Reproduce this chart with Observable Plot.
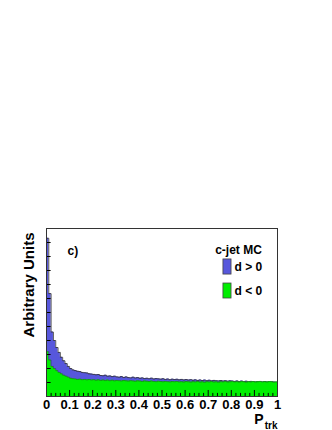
<!DOCTYPE html>
<html><head><meta charset="utf-8">
<script src="https://cdn.jsdelivr.net/npm/d3@7"></script>
<script src="https://cdn.jsdelivr.net/npm/@observablehq/plot@0.6"></script>
<style>html,body{margin:0;padding:0;background:#fff;} svg{display:block;}</style>
</head><body><div id="chart"></div>
<script>
// Histogram: 100 bins of width 0.01 in P_trk over [0,1]
const binEdgesStart = 0, binWidth = 0.01;
const dPos = [11.3,7.35,4.6,4.0,3.5,3.15,2.8,2.55,2.35,2.15,
  2.0,1.9,1.85,1.8,1.78,1.72,1.7,1.68,1.62,1.6,
  1.58,1.55,1.57,1.5,1.48,1.52,1.45,1.47,1.42,1.45,
  1.4,1.38,1.42,1.36,1.4,1.35,1.33,1.38,1.32,1.35,
  1.3,1.33,1.28,1.3,1.27,1.31,1.25,1.28,1.26,1.24,
  1.27,1.22,1.25,1.2,1.24,1.21,1.23,1.19,1.22,1.18,
  1.21,1.17,1.2,1.16,1.19,1.15,1.18,1.14,1.17,1.13,
  1.16,1.12,1.15,1.13,1.11,1.14,1.1,1.13,1.09,1.12,
  1.1,1.08,1.11,1.07,1.1,1.06,1.09,1.05,1.08,1.06,
  1.04,1.07,1.05,1.03,1.06,1.04,1.02,1.05,1.03,1.01];
const dNeg = [3.2,2.6,2.15,2.0,1.85,1.72,1.62,1.52,1.45,1.38,
  1.3,1.27,1.25,1.22,1.24,1.2,1.22,1.19,1.21,1.18,
  1.2,1.16,1.19,1.15,1.18,1.14,1.17,1.13,1.16,1.12,
  1.15,1.13,1.11,1.14,1.12,1.1,1.13,1.11,1.09,1.12,
  1.1,1.08,1.11,1.09,1.07,1.1,1.08,1.06,1.09,1.07,
  1.05,1.08,1.06,1.04,1.07,1.05,1.08,1.04,1.06,1.03,
  1.07,1.05,1.03,1.06,1.04,1.07,1.03,1.05,1.02,1.06,
  1.04,1.07,1.03,1.05,1.02,1.06,1.04,1.07,1.03,1.05,
  1.08,1.04,1.06,1.03,1.07,1.05,1.02,1.06,1.04,1.07,
  1.03,1.05,1.08,1.04,1.06,1.03,1.07,1.05,1.02,1.04];
const xTicks = [0,0.1,0.2,0.3,0.4,0.5,0.6,0.7,0.8,0.9,1];
const xTickLabels = ["0","0.1","0.2","0.3","0.4","0.5","0.6","0.7","0.8","0.9","1"];
const xMinorTicks = [0.02,0.04,0.06,0.08,0.12,0.14,0.16,0.18,0.22,0.24,0.26,0.28,0.32,0.34,0.36,0.38,
  0.42,0.44,0.46,0.48,0.52,0.54,0.56,0.58,0.62,0.64,0.66,0.68,0.72,0.74,0.76,0.78,0.82,0.84,0.86,0.88,0.92,0.94,0.96,0.98];
const yTicks = [1,2,3,4,5,6,7,8,9,10,11];
const legendLabels = ["d > 0","d < 0"];
const legendTitle = "c-jet MC";
const panelLabel = "c)";
const yLabel = "Arbitrary Units";

const blue = "#5757dc", green = "#00ee00", outline = "#333";

function steps(vals) {
  const pts = vals.map((v, i) => ({x: binEdgesStart + i * binWidth, y: v}));
  pts.push({x: binEdgesStart + vals.length * binWidth, y: vals[vals.length - 1]});
  return pts;
}
const posPts = steps(dPos), negPts = steps(dNeg);
const swatches = [
  {x1: 0.766, x2: 0.801, y1: 8.71, y2: 9.79, fill: blue, label: legendLabels[0], ty: 9.25},
  {x1: 0.766, x2: 0.801, y1: 7.0, y2: 8.07, fill: green, label: legendLabels[1], ty: 7.53}
];
const font = "'Liberation Sans', Arial, Helvetica, sans-serif";

const chart = Plot.plot({
  width: 332, height: 430,
  marginLeft: 46, marginRight: 55, marginTop: 228, marginBottom: 34,
  style: {fontFamily: font, background: "white", color: "black"},
  x: {domain: [0, 1]},
  y: {domain: [0, 12]},
  marks: [
    Plot.areaY(posPts, {x: "x", y: "y", curve: "step-after", fill: blue}),
    Plot.lineY(posPts, {x: "x", y: "y", curve: "step-after", stroke: outline, strokeWidth: 0.8}),
    Plot.areaY(negPts, {x: "x", y: "y", curve: "step-after", fill: green}),
    Plot.lineY(negPts, {x: "x", y: "y", curve: "step-after", stroke: outline, strokeWidth: 0.6, strokeOpacity: 0.7}),
    Plot.ruleX(xTicks, {x: d => d, y1: 0, y2: 0.43, stroke: "black"}),
    Plot.ruleX(xMinorTicks, {x: d => d, y1: 0, y2: 0.22, stroke: "black"}),
    Plot.ruleY(yTicks, {y: d => d, x1: 0, x2: 0.02, stroke: "black"}),
    Plot.frame({stroke: "#333", strokeWidth: 1}),
    Plot.axisX(xTicks, {tickSize: 0, tickPadding: 3, tickFormat: d => xTickLabels[Math.round(d * 10)], fontSize: 13, fontWeight: "bold", label: null}),
    Plot.axisY([], {label: null, tickSize: 0}),
    Plot.text([yLabel], {text: d => d, frameAnchor: "top-left", rotate: -90, textAnchor: "end", dx: -23, dy: 4, fontSize: 15, fontWeight: "bold"}),
    Plot.text([panelLabel], {text: d => d, frameAnchor: "top-left", textAnchor: "start", dx: 21, dy: 18, fontSize: 12, fontWeight: "bold"}),
    Plot.text([legendTitle], {text: d => d, frameAnchor: "top-right", textAnchor: "middle", dx: -39, dy: 17, fontSize: 12, fontWeight: "bold"}),
    Plot.rect(swatches, {x1: "x1", x2: "x2", y1: "y1", y2: "y2", fill: "fill", stroke: "#444", strokeWidth: 0.8}),
    Plot.text(swatches, {x: "x2", y: "ty", text: "label", textAnchor: "start", dx: 3, fontSize: 12, fontWeight: "bold"}),
    Plot.text(["P"], {text: d => d, frameAnchor: "bottom-right", textAnchor: "end", lineAnchor: "bottom", dx: -14, dy: 27, fontSize: 14, fontWeight: "bold"}),
    Plot.text(["trk"], {text: d => d, frameAnchor: "bottom-right", textAnchor: "end", lineAnchor: "bottom", dx: 0, dy: 32, fontSize: 10, fontWeight: "bold"})
  ]
});
document.getElementById("chart").append(chart);
</script></body></html>
